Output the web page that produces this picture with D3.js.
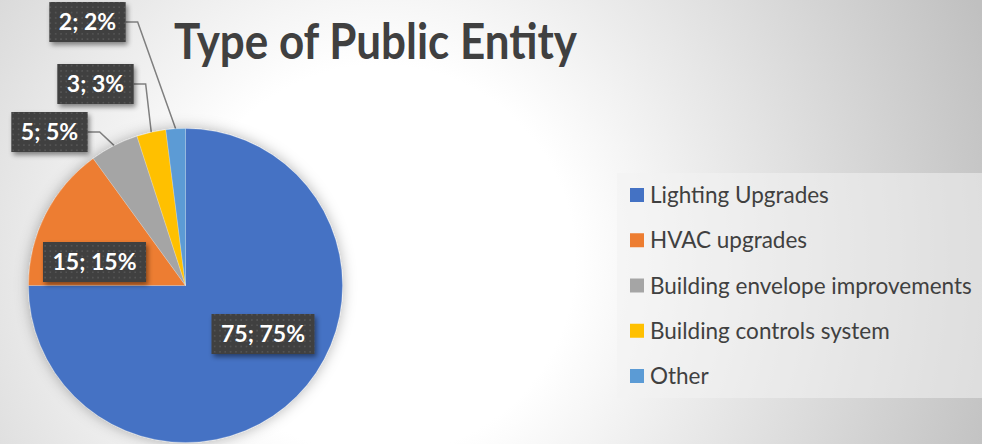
<!DOCTYPE html>
<html>
<head>
<meta charset="utf-8">
<script src="https://cdn.jsdelivr.net/npm/d3@7"></script>
<style>
  html, body { margin: 0; padding: 0; overflow: hidden; }
  svg { display: block; }
</style>
</head>
<body>
<svg id="chart" width="982" height="444"></svg>
<script>
// Project categories and counts
const categories = [
  "Lighting Upgrades",
  "HVAC upgrades",
  "Building envelope improvements",
  "Building controls system",
  "Other"
];
const counts = [75, 15, 5, 3, 2];
const percents = [75, 15, 5, 3, 2];
const colors = ["#4472C4", "#ED7D31", "#A5A5A5", "#FFC000", "#5B9BD5"];
const chartTitle = "Type of Public Entity";

// Label box centres, relative to the pie centre
const labelOffsets = [[77.5, 48.5], [-91, -23.5], [-136, -153.5], [-90, -201.5], [-98, -263.5]];
// Slices whose labels sit outside the pie and get a leader line
const outside = [false, false, true, true, true];

const W = 982, H = 444;
const cx = 185.5, cy = 285.5, R = 157;
const FONT = "Lato, 'Open Sans', sans-serif";

const svg = d3.select("#chart");
const defs = svg.append("defs");

// Background: soft radial gradient
const bg = defs.append("radialGradient").attr("id", "bgGrad")
  .attr("gradientUnits", "userSpaceOnUse")
  .attr("cx", 380).attr("cy", 260).attr("r", 650);
bg.append("stop").attr("offset", 0).attr("stop-color", "#ffffff");
bg.append("stop").attr("offset", 0.3).attr("stop-color", "#ffffff");
bg.append("stop").attr("offset", 1).attr("stop-color", "#c0c0c0");

// Shadow around the pie
const pieShadow = defs.append("filter").attr("id", "pieShadow")
  .attr("x", "-30%").attr("y", "-30%").attr("width", "160%").attr("height", "160%");
pieShadow.append("feGaussianBlur").attr("in", "SourceAlpha").attr("stdDeviation", 7).attr("result", "b");
pieShadow.append("feFlood").attr("flood-color", "#000").attr("flood-opacity", 0.3);
pieShadow.append("feComposite").attr("in2", "b").attr("operator", "in").attr("result", "s");
const pm = pieShadow.append("feMerge");
pm.append("feMergeNode").attr("in", "s");
pm.append("feMergeNode").attr("in", "SourceGraphic");

// Shadow under the label boxes
const boxShadow = defs.append("filter").attr("id", "boxShadow")
  .attr("x", "-30%").attr("y", "-30%").attr("width", "160%").attr("height", "180%");
boxShadow.append("feDropShadow").attr("dx", 2).attr("dy", 3).attr("stdDeviation", 2.5)
  .attr("flood-color", "#000").attr("flood-opacity", 0.45);

// Dotted texture for the label boxes
const pat = defs.append("pattern").attr("id", "dots")
  .attr("patternUnits", "userSpaceOnUse").attr("width", 5.3).attr("height", 5.3);
pat.append("rect").attr("width", 5.3).attr("height", 5.3).attr("fill", "#3f3f3f");
pat.append("rect").attr("x", 2).attr("y", 2).attr("width", 1.4).attr("height", 1.4).attr("fill", "#5e5e5e");

svg.append("rect").attr("width", W).attr("height", H).attr("fill", "url(#bgGrad)");

// Title
svg.append("text")
  .attr("x", 174).attr("y", 59)
  .attr("font-family", FONT)
  .attr("font-weight", 700).attr("font-size", 50)
  .attr("fill", "#404040")
  .attr("textLength", 403).attr("lengthAdjust", "spacingAndGlyphs")
  .text(chartTitle);

// Pie
const pie = d3.pie().sort(null).value(d => d)(counts);
const arc = d3.arc().innerRadius(0).outerRadius(R);

const g = svg.append("g").attr("transform", `translate(${cx},${cy})`);
const leaders = g.append("g");
g.append("g").attr("filter", "url(#pieShadow)")
  .selectAll("path").data(pie).join("path")
  .attr("d", arc)
  .attr("fill", (d, i) => colors[i])
  .attr("stroke", "rgba(255,255,255,0.35)").attr("stroke-width", 0.6);

// Data labels
const boxH = 40, padX = 9.5;
const labels = g.append("g");
pie.forEach((d, i) => {
  const [ox, oy] = labelOffsets[i];
  const lg = labels.append("g");
  const txt = lg.append("text")
    .attr("x", ox).attr("y", oy + 8)
    .attr("text-anchor", "middle")
    .attr("font-family", FONT)
    .attr("font-weight", 700).attr("font-size", 23)
    .attr("fill", "#ffffff")
    .text(`${counts[i]}; ${percents[i]}%`);
  const tw = txt.node().getComputedTextLength();
  const bw = tw + 2 * padX;
  lg.insert("rect", "text")
    .attr("x", ox - bw / 2).attr("y", oy - boxH / 2)
    .attr("width", bw).attr("height", boxH)
    .attr("fill", "url(#dots)")
    .attr("filter", "url(#boxShadow)");

  if (outside[i]) {
    const mid = (d.startAngle + d.endAngle) / 2;
    const px = R * Math.sin(mid), py = -R * Math.cos(mid);
    const sx = ox + bw / 2, sy = oy;
    leaders.append("path")
      .attr("d", `M${sx},${sy}H${sx + 12}L${px},${py}`)
      .attr("fill", "none").attr("stroke", "#7f7f7f").attr("stroke-width", 1.5);
  }
});

// Legend
const leg = svg.append("g");
leg.append("rect").attr("x", 617).attr("y", 173).attr("width", 370).attr("height", 225)
  .attr("fill", "#f2f2f2").attr("fill-opacity", 0.55);
const rowY = d3.scalePoint().domain(d3.range(categories.length)).range([195, 376]);
categories.forEach((c, i) => {
  leg.append("rect").attr("x", 630).attr("y", rowY(i) - 7).attr("width", 14).attr("height", 14)
    .attr("fill", colors[i]);
  leg.append("text").attr("x", 650).attr("y", rowY(i) + 8)
    .attr("font-family", FONT)
    .attr("font-size", 22.5).attr("fill", "#404040")
    .text(c);
});
</script>
</body>
</html>
